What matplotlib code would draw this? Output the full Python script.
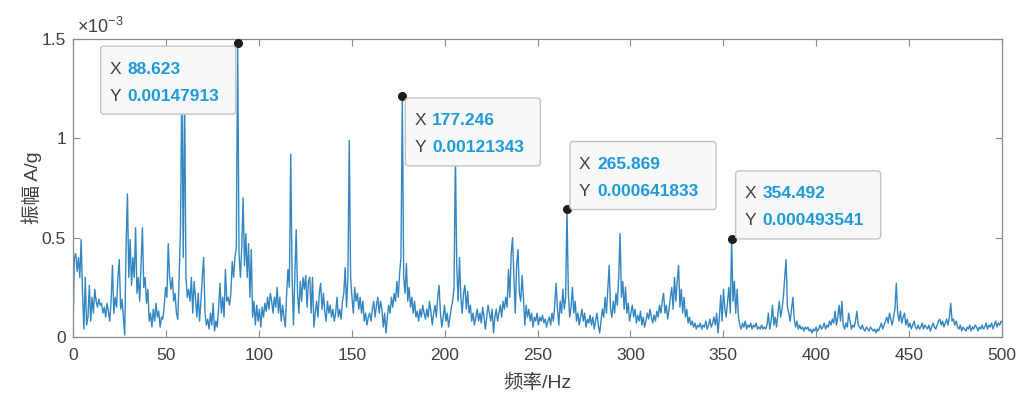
import numpy as np
import matplotlib
matplotlib.use("Agg")
import matplotlib.pyplot as plt
from matplotlib.patches import FancyBboxPatch
from matplotlib.transforms import IdentityTransform

# Spectrum bin spacing (Hz)
bin_width = 0.732421875

# Amplitude spectrum, in units of 1e-3 A/g, one value per bin
amplitude_e3 = [
    0.03, 0.40, 0.42, 0.33, 0.40, 0.30, 0.49, 0.22, 0.04, 0.30,
    0.06, 0.10, 0.26, 0.08, 0.20, 0.12, 0.24, 0.18, 0.15, 0.19,
    0.16, 0.17, 0.12, 0.15, 0.10, 0.17, 0.13, 0.08, 0.18, 0.36,
    0.12, 0.20, 0.15, 0.30, 0.39, 0.14, 0.19, 0.10, 0.01, 0.45,
    0.72, 0.30, 0.49, 0.26, 0.40, 0.30, 0.55, 0.22, 0.30, 0.18,
    0.36, 0.55, 0.25, 0.30, 0.17, 0.24, 0.08, 0.12, 0.05, 0.14,
    0.08, 0.17, 0.10, 0.13, 0.05, 0.10, 0.09, 0.15, 0.25, 0.20,
    0.47, 0.30, 0.24, 0.30, 0.18, 0.22, 0.12, 0.09, 0.30, 0.55,
    1.30, 0.40, 1.24, 0.30, 0.20, 0.24, 0.18, 0.30, 0.12, 0.28,
    0.20, 0.10, 0.22, 0.08, 0.18, 0.30, 0.40, 0.12, 0.06, 0.09,
    0.04, 0.12, 0.06, 0.17, 0.03, 0.08, 0.05, 0.15, 0.27, 0.12,
    0.20, 0.10, 0.34, 0.18, 0.20, 0.16, 0.22, 0.38, 0.30, 0.40,
    0.45, 1.47913, 0.42, 0.30, 0.45, 0.70, 0.36, 0.52, 0.30, 0.47,
    0.20, 0.44, 0.10, 0.18, 0.06, 0.16, 0.08, 0.14, 0.05, 0.15,
    0.10, 0.17, 0.13, 0.20, 0.14, 0.22, 0.18, 0.12, 0.20, 0.15,
    0.25, 0.12, 0.20, 0.08, 0.16, 0.10, 0.05, 0.22, 0.34, 0.25,
    0.92, 0.30, 0.06, 0.30, 0.54, 0.22, 0.12, 0.28, 0.18, 0.30,
    0.24, 0.31, 0.15, 0.28, 0.30, 0.12, 0.30, 0.05, 0.12, 0.18,
    0.10, 0.22, 0.27, 0.14, 0.22, 0.13, 0.08, 0.18, 0.12, 0.16,
    0.10, 0.14, 0.08, 0.12, 0.20, 0.10, 0.14, 0.09, 0.18, 0.22,
    0.35, 0.15, 0.30, 0.99, 0.30, 0.20, 0.12, 0.25, 0.18, 0.22,
    0.14, 0.20, 0.12, 0.18, 0.08, 0.12, 0.06, 0.10, 0.12, 0.08,
    0.14, 0.18, 0.10, 0.16, 0.20, 0.12, 0.18, 0.14, 0.05, 0.12,
    0.02, 0.10, 0.16, 0.12, 0.20, 0.15, 0.22, 0.18, 0.28, 0.20,
    0.32, 0.40, 1.21343, 0.30, 0.22, 0.37, 0.18, 0.25, 0.15, 0.20,
    0.12, 0.18, 0.10, 0.13, 0.08, 0.14, 0.10, 0.16, 0.12, 0.09,
    0.14, 0.10, 0.18, 0.13, 0.06, 0.12, 0.16, 0.10, 0.20, 0.26,
    0.12, 0.05, 0.10, 0.16, 0.08, 0.12, 0.05, 0.10, 0.15, 0.18,
    0.25, 0.92, 0.35, 0.18, 0.40, 0.20, 0.12, 0.22, 0.26, 0.14,
    0.23, 0.12, 0.16, 0.08, 0.12, 0.06, 0.10, 0.14, 0.08, 0.12,
    0.07, 0.15, 0.10, 0.04, 0.10, 0.16, 0.12, 0.08, 0.14, 0.02,
    0.10, 0.14, 0.08, 0.12, 0.16, 0.10, 0.18, 0.14, 0.20, 0.15,
    0.34, 0.20, 0.42, 0.50, 0.30, 0.12, 0.36, 0.44, 0.22, 0.18,
    0.31, 0.20, 0.06, 0.16, 0.10, 0.14, 0.08, 0.12, 0.05, 0.10,
    0.08, 0.12, 0.06, 0.10, 0.08, 0.11, 0.07, 0.09, 0.05, 0.08,
    0.10, 0.06, 0.12, 0.08, 0.16, 0.27, 0.14, 0.06, 0.18, 0.12,
    0.24, 0.14, 0.20, 0.641833, 0.22, 0.10, 0.15, 0.25, 0.12, 0.18,
    0.08, 0.12, 0.06, 0.10, 0.14, 0.08, 0.12, 0.05, 0.09, 0.07,
    0.11, 0.06, 0.10, 0.04, 0.08, 0.12, 0.06, 0.02, 0.08, 0.14,
    0.10, 0.20, 0.12, 0.24, 0.36, 0.14, 0.10, 0.18, 0.12, 0.22,
    0.16, 0.30, 0.52, 0.20, 0.28, 0.14, 0.25, 0.12, 0.17, 0.08,
    0.12, 0.16, 0.10, 0.14, 0.07, 0.11, 0.08, 0.13, 0.06, 0.10,
    0.05, 0.08, 0.12, 0.09, 0.14, 0.10, 0.07, 0.11, 0.08, 0.13,
    0.10, 0.16, 0.12, 0.18, 0.22, 0.12, 0.16, 0.09, 0.14, 0.20,
    0.25, 0.14, 0.30, 0.18, 0.28, 0.36, 0.15, 0.24, 0.12, 0.20,
    0.10, 0.14, 0.07, 0.10, 0.06, 0.08, 0.05, 0.07, 0.04, 0.06,
    0.05, 0.07, 0.04, 0.06, 0.05, 0.08, 0.04, 0.06, 0.09, 0.05,
    0.07, 0.10, 0.06, 0.12, 0.02, 0.10, 0.21, 0.08, 0.24, 0.14,
    0.10, 0.18, 0.25, 0.12, 0.493541, 0.18, 0.28, 0.12, 0.24, 0.10,
    0.06, 0.04, 0.07, 0.05, 0.08, 0.04, 0.06, 0.05, 0.07, 0.04,
    0.06, 0.05, 0.07, 0.04, 0.05, 0.04, 0.06, 0.04, 0.05, 0.04,
    0.06, 0.12, 0.04, 0.08, 0.16, 0.06, 0.10, 0.05, 0.12, 0.18,
    0.10, 0.14, 0.20, 0.30, 0.39, 0.15, 0.12, 0.08, 0.14, 0.20,
    0.09, 0.05, 0.08, 0.04, 0.06, 0.04, 0.05, 0.03, 0.05, 0.04,
    0.05, 0.03, 0.04, 0.02, 0.04, 0.03, 0.05, 0.03, 0.04, 0.06,
    0.04, 0.05, 0.07, 0.04, 0.06, 0.05, 0.08, 0.06, 0.09, 0.07,
    0.13, 0.06, 0.10, 0.16, 0.08, 0.18, 0.06, 0.04, 0.07, 0.05,
    0.12, 0.08, 0.04, 0.06, 0.05, 0.08, 0.13, 0.06, 0.05, 0.04,
    0.06, 0.04, 0.03, 0.05, 0.04, 0.03, 0.05, 0.04, 0.03, 0.04,
    0.02, 0.04, 0.03, 0.05, 0.07, 0.04, 0.06, 0.08, 0.10, 0.07,
    0.12, 0.09, 0.06, 0.10, 0.14, 0.27, 0.12, 0.08, 0.13, 0.07,
    0.10, 0.12, 0.06, 0.09, 0.05, 0.07, 0.04, 0.06, 0.08, 0.05,
    0.04, 0.06, 0.04, 0.05, 0.07, 0.04, 0.06, 0.05, 0.04, 0.06,
    0.03, 0.05, 0.07, 0.05, 0.04, 0.06, 0.08, 0.09, 0.06, 0.08,
    0.05, 0.07, 0.09, 0.06, 0.10, 0.17, 0.08, 0.09, 0.06, 0.08,
    0.05, 0.04, 0.06, 0.03, 0.05, 0.04, 0.03, 0.05, 0.04, 0.06,
    0.03, 0.05, 0.04, 0.06, 0.05, 0.03, 0.05, 0.04, 0.06, 0.04,
    0.05, 0.07, 0.04, 0.06, 0.05, 0.07, 0.04, 0.06, 0.08, 0.05,
    0.07, 0.06, 0.08, 0.07,
]

# Data tips on the harmonic peaks
tip_freq = [88.623, 177.246, 265.869, 354.492]
tip_amp = [0.00147913, 0.00121343, 0.000641833, 0.000493541]

x_ticks = [0, 50, 100, 150, 200, 250, 300, 350, 400, 450, 500]
y_ticks = [0, 0.5, 1, 1.5]
y_tick_labels = ["0", "0.5", "1", "1.5"]

x_label = "频率/Hz"
y_label = "振幅 A/g"

plt.rcParams["font.family"] = ["Liberation Sans", "Noto Sans CJK SC", "DejaVu Sans"]
plt.rcParams["mathtext.fontset"] = "custom"
plt.rcParams["mathtext.rm"] = "Liberation Sans"

W, H = 1021, 394
fig = plt.figure(figsize=(W / 100, H / 100), dpi=100)
ax = fig.add_axes([73 / W, 1 - 337 / H, 929 / W, 298 / H])

line_color = "#3386c2"
frame_color = "#8a8a8a"
text_color = "#404040"

freq = np.arange(len(amplitude_e3)) * bin_width
ax.plot(freq, amplitude_e3, color=line_color, lw=1.0, zorder=2)

ax.set_xlim(0, 500)
ax.set_ylim(0, 1.5)
ax.set_xticks(x_ticks)
ax.set_xticklabels([str(t) for t in x_ticks])
ax.set_yticks(y_ticks)
ax.set_yticklabels(y_tick_labels)
ax.tick_params(direction="in", top=True, right=True, length=5, width=0.8,
               color=frame_color, labelcolor=text_color, labelsize=12.5)
ax.tick_params(axis="x", pad=8)
ax.tick_params(axis="y", pad=5)
for s in ax.spines.values():
    s.set_color(frame_color)
    s.set_linewidth(0.9)

ax.set_xlabel(x_label, fontsize=14, color=text_color)
ax.xaxis.set_label_coords(0.5, -0.125)
ax.set_ylabel(y_label, fontsize=14, color=text_color)
ax.yaxis.set_label_coords(-0.033, 0.5)

# exponent label above the y axis
ax.text(0.004, 1.008, r"$\times\mathregular{10^{-3}}$", transform=ax.transAxes,
        fontsize=13, color=text_color, ha="left", va="bottom")

# data tip markers
ax.plot(np.array(tip_freq), np.array(tip_amp) * 1e3, "o", ms=5.5,
        color="#1c1c1c", zorder=6, clip_on=False)

# data tip boxes: (left, top) offset in pixels from the marker, box width
tip_layout = [(-137, -3, 135), (3, -2, 135), (3, 68, 146), (4, 68, 145)]
box_h = 68
value_color = "#1f9ad8"

for fx, fy, (dx, dy, bw) in zip(tip_freq, tip_amp, tip_layout):
    px, py = ax.transData.transform((fx, fy * 1e3))
    left = px + dx
    top = py + dy
    box = FancyBboxPatch((left, top - box_h), bw, box_h,
                         boxstyle="round,pad=0,rounding_size=3",
                         transform=IdentityTransform(),
                         facecolor="#f7f8fa", edgecolor="#c4c4c4", lw=1.0,
                         zorder=10)
    fig.add_artist(box)
    rows = [("X", f"{fx:g}", 23), ("Y", f"{fy:g}", 50)]
    for key, val, yoff in rows:
        fig.text(left + 9, top - yoff, key, transform=IdentityTransform(),
                 fontsize=12.5, color=text_color, ha="left", va="center",
                 zorder=11)
        fig.text(left + 27, top - yoff, val, transform=IdentityTransform(),
                 fontsize=12.5, color=value_color, fontweight="bold",
                 ha="left", va="center", zorder=11)

fig.savefig("out.png", dpi=100)
